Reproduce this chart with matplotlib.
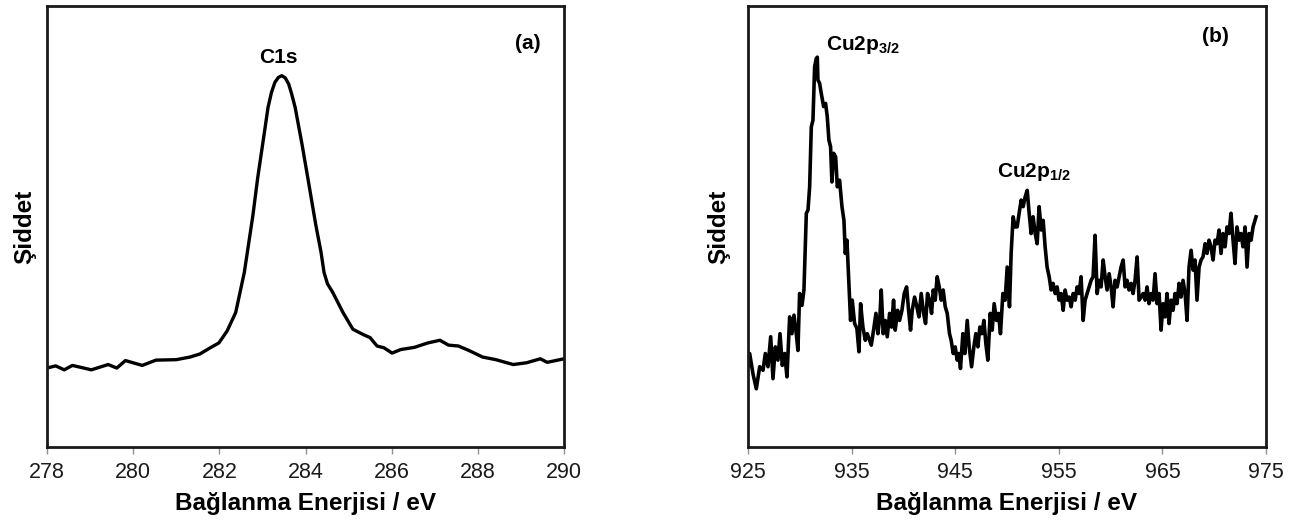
import matplotlib
matplotlib.use('Agg')
import matplotlib.pyplot as plt

plt.rcParams['font.family'] = ['Liberation Sans', 'DejaVu Sans']
plt.rcParams['mathtext.fontset'] = 'custom'
plt.rcParams['mathtext.bf'] = 'Liberation Sans:bold'
plt.rcParams['mathtext.rm'] = 'Liberation Sans'

# (a) C1s spektrumu
c1s_energy = [278.00, 278.20, 278.40, 278.59, 279.03, 279.42, 279.62, 279.82, 280.21, 280.53,
              281.00, 281.32, 281.55, 281.79, 281.99, 282.18, 282.38, 282.58, 282.78, 282.89,
              282.97, 283.05, 283.13, 283.21, 283.29, 283.37, 283.45, 283.53, 283.61, 283.68,
              283.76, 283.84, 283.92, 284.08, 284.24, 284.36, 284.43, 284.51, 284.63, 284.87,
              285.10, 285.34, 285.50, 285.66, 285.82, 286.01, 286.21, 286.53, 286.84, 287.12,
              287.32, 287.55, 287.79, 288.11, 288.42, 288.82, 289.13, 289.45, 289.61, 290.00]
c1s_intensity = [17.9, 18.4, 17.5, 18.5, 17.5, 18.7, 17.9, 19.6, 18.5, 19.7,
                 19.8, 20.4, 21.1, 22.5, 23.6, 26.3, 30.5, 39.6, 52.6, 61.0,
                 66.3, 71.6, 77.0, 80.4, 82.7, 83.8, 84.2, 83.7, 82.3, 80.0,
                 77.0, 72.8, 68.6, 59.5, 50.3, 44.2, 39.6, 37.0, 35.1, 30.5,
                 26.7, 25.5, 24.8, 22.9, 22.5, 21.3, 22.1, 22.6, 23.6, 24.2,
                 23.1, 22.9, 21.9, 20.4, 19.8, 18.7, 19.1, 20.0, 19.2, 20.0]

# (b) Cu2p spektrumu
cu_energy = [925.00, 925.16, 925.48, 925.80, 926.13, 926.45, 926.67, 926.93, 927.19, 927.41,
             927.64, 927.89, 928.09, 928.31, 928.54, 928.76, 929.02, 929.24, 929.44, 929.66,
             929.82, 929.98, 930.21, 930.40, 930.63, 930.79, 930.95, 931.11, 931.27, 931.43,
             931.59, 931.69, 931.75, 931.91, 932.07, 932.30, 932.49, 932.65, 932.81, 932.97,
             933.10, 933.26, 933.46, 933.62, 933.84, 934.07, 934.26, 934.39, 934.55, 934.71,
             934.90, 935.06, 935.29, 935.51, 935.71, 935.87, 936.09, 936.32, 936.51, 936.74,
             936.90, 937.12, 937.35, 937.54, 937.73, 937.86, 938.05, 938.25, 938.44, 938.67,
             938.86, 939.05, 939.21, 939.44, 939.63, 939.86, 940.08, 940.31, 940.47, 940.69,
             940.85, 941.08, 941.30, 941.50, 941.72, 941.95, 942.14, 942.33, 942.52, 942.72,
             942.88, 943.07, 943.26, 943.46, 943.65, 943.84, 944.04, 944.23, 944.45, 944.61,
             944.81, 945.00, 945.19, 945.35, 945.51, 945.74, 945.93, 946.16, 946.35, 946.58,
             946.80, 946.99, 947.19, 947.38, 947.57, 947.77, 947.96, 948.15, 948.38, 948.57,
             948.76, 948.99, 949.18, 949.37, 949.60, 949.82, 950.02, 950.24, 950.40, 950.59,
             950.79, 950.98, 951.17, 951.37, 951.56, 951.75, 951.95, 952.14, 952.33, 952.52,
             952.72, 952.91, 953.10, 953.30, 953.49, 953.68, 953.87, 954.07, 954.26, 954.45,
             954.65, 954.84, 955.03, 955.23, 955.42, 955.61, 955.80, 956.00, 956.19, 956.38,
             956.58, 956.77, 956.96, 957.15, 957.35, 957.54, 957.73, 957.93, 958.12, 958.31,
             958.50, 958.70, 958.89, 959.08, 959.28, 959.47, 959.66, 959.86, 960.05, 960.24,
             960.43, 960.63, 960.82, 961.01, 961.21, 961.40, 961.59, 961.78, 961.98, 962.17,
             962.36, 962.56, 962.75, 962.94, 963.14, 963.33, 963.52, 963.71, 963.91, 964.10,
             964.29, 964.49, 964.68, 964.87, 965.06, 965.26, 965.45, 965.64, 965.84, 966.03,
             966.22, 966.41, 966.61, 966.80, 966.99, 967.19, 967.38, 967.57, 967.77, 967.96,
             968.15, 968.34, 968.54, 968.73, 968.92, 969.12, 969.31, 969.50, 969.69, 969.89,
             970.08, 970.27, 970.47, 970.66, 970.85, 971.05, 971.24, 971.43, 971.62, 971.82,
             972.01, 972.20, 972.40, 972.59, 972.78, 972.98, 973.17, 973.36, 973.56, 973.75,
             973.94, 974.04]
cu_intensity = [18.2, 21.2, 16.6, 13.2, 18.2, 17.4, 21.2, 18.2, 25.0, 15.5,
                22.7, 19.7, 25.7, 18.5, 21.2, 15.9, 29.5, 25.7, 29.9, 25.7,
                21.9, 34.8, 32.1, 35.6, 53.0, 53.7, 59.0, 72.6, 74.1, 86.2,
                88.1, 88.4, 83.2, 82.5, 80.2, 77.2, 77.9, 74.9, 69.6, 68.1,
                60.1, 66.6, 65.8, 59.0, 60.5, 54.5, 51.4, 43.9, 46.9, 38.6,
                28.7, 33.3, 28.0, 26.9, 21.6, 32.5, 27.2, 24.2, 25.7, 24.2,
                23.1, 26.5, 30.3, 25.7, 29.5, 35.6, 25.7, 28.7, 25.0, 30.3,
                27.2, 33.3, 26.5, 31.0, 28.7, 31.0, 34.8, 36.3, 31.8, 26.5,
                31.0, 34.0, 31.8, 29.5, 34.8, 30.3, 28.0, 34.8, 33.3, 30.3,
                35.6, 33.3, 38.6, 36.3, 33.3, 35.6, 31.8, 30.3, 25.7, 24.2,
                21.2, 22.7, 19.7, 21.2, 17.8, 25.7, 21.2, 28.7, 22.7, 18.2,
                22.7, 25.7, 22.7, 27.2, 25.7, 28.7, 23.4, 19.7, 30.3, 26.5,
                32.5, 28.7, 30.3, 25.7, 34.8, 33.3, 40.8, 31.8, 43.9, 52.2,
                49.9, 49.9, 53.0, 56.0, 54.5, 56.7, 58.2, 53.0, 48.4, 52.2,
                48.4, 46.1, 54.5, 49.2, 51.4, 45.4, 40.8, 38.6, 35.6, 37.1,
                34.8, 36.3, 33.3, 34.8, 31.0, 35.6, 33.3, 34.0, 31.8, 34.8,
                33.3, 36.3, 34.8, 38.6, 28.7, 33.3, 34.8, 36.3, 37.8, 38.6,
                48.0, 34.8, 37.8, 36.3, 42.4, 38.6, 35.6, 39.3, 36.3, 31.8,
                37.8, 36.3, 38.6, 40.8, 42.4, 36.3, 37.8, 35.6, 37.1, 34.8,
                37.8, 43.1, 33.3, 34.0, 34.8, 33.3, 36.3, 32.5, 34.8, 33.3,
                39.3, 32.5, 34.8, 26.5, 32.5, 29.5, 34.8, 28.0, 33.3, 31.0,
                34.8, 32.5, 37.1, 34.0, 37.8, 34.8, 28.7, 40.8, 44.6, 40.1,
                42.4, 33.3, 40.8, 42.4, 43.1, 46.1, 43.9, 46.9, 45.4, 42.4,
                46.9, 46.1, 49.2, 43.9, 48.4, 45.4, 49.9, 48.4, 53.0, 46.9,
                41.6, 49.9, 46.9, 48.4, 45.4, 49.9, 40.8, 48.4, 46.9, 49.9,
                51.4, 52.2]

xticks_a = [278, 280, 282, 284, 286, 288, 290]
xticks_b = [925, 935, 945, 955, 965, 975]

fig = plt.figure(figsize=(13, 5.28), dpi=100)
ax1 = fig.add_axes([47 / 1300, 81 / 528, 517 / 1300, 441 / 528])
ax2 = fig.add_axes([748 / 1300, 81 / 528, 518 / 1300, 441 / 528])

ax1.plot(c1s_energy, c1s_intensity, color='black', lw=2.4, solid_joinstyle='round')
ax2.plot(cu_energy, cu_intensity, color='black', lw=2.6, solid_joinstyle='round')

for ax, ticks in ((ax1, xticks_a), (ax2, xticks_b)):
    ax.set_xlim(ticks[0], ticks[-1])
    ax.set_ylim(0, 100)
    ax.set_xticks(ticks)
    ax.set_yticks([])
    ax.tick_params(axis='x', direction='out', length=5, width=1, color='#909090',
                   labelsize=15.5, labelcolor='#1a1a1a', pad=6)
    for sp in ax.spines.values():
        sp.set_linewidth(2.0)
        sp.set_color('#1a1a1a')
    ax.set_xlabel('Bağlanma Enerjisi / eV', fontsize=17.5, fontweight='bold', labelpad=6)
    ax.set_ylabel('Şiddet', fontsize=17.5, fontweight='bold')

ax1.yaxis.set_label_coords(-0.02, 0.5)
ax2.yaxis.set_label_coords(-0.035, 0.5)

ax1.text(283.38, 88.4, 'C1s', fontsize=15, fontweight='bold', ha='center', va='center')
ax1.text(0.93, 0.915, '(a)', transform=ax1.transAxes, fontsize=15,
         fontweight='bold', ha='center', va='center')

ax2.text(932.5, 91.2, r'Cu2p$_{\mathbf{3/2}}$', fontsize=15, fontweight='bold',
         ha='left', va='center')
ax2.text(949.0, 62.4, r'Cu2p$_{\mathbf{1/2}}$', fontsize=15, fontweight='bold',
         ha='left', va='center')
ax2.text(0.903, 0.93, '(b)', transform=ax2.transAxes, fontsize=15,
         fontweight='bold', ha='center', va='center')

fig.savefig('out.png', dpi=100)
plt.close()
